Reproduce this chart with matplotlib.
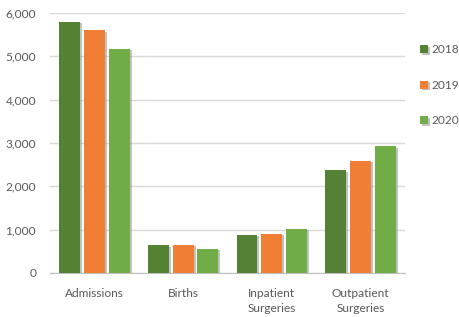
import numpy as np
import matplotlib
matplotlib.use('Agg')
import matplotlib.pyplot as plt
import matplotlib.patheffects as pe

# data
categories = ['Admissions', 'Births', 'Inpatient\nSurgeries', 'Outpatient\nSurgeries']
years = ['2018', '2019', '2020']
values_2018 = [5800, 640, 885, 2370]
values_2019 = [5600, 650, 905, 2585]
values_2020 = [5170, 555, 1020, 2920]

colors = ['#548235', '#F07F35', '#70AD47']
text_color = '#595959'

plt.rcParams['font.family'] = ['Lato', 'DejaVu Sans']

fig = plt.figure(figsize=[4.59, 3.17], dpi=100)
ax = fig.add_axes([0.109, 0.139, 0.773, 0.82])

x = np.arange(len(categories))
width = 0.235
step = 0.28
shadow = [pe.SimplePatchShadow(offset=(1.5, -1), shadow_rgbFace='#9a9a9a', alpha=0.6), pe.Normal()]

for i, (year, vals) in enumerate(zip(years, [values_2018, values_2019, values_2020])):
    bars = ax.bar(x + (i - 1) * step, vals, width, color=colors[i], label=year, zorder=3)
    for b in bars:
        b.set_path_effects(shadow)

ax.set_xlim(-0.5, len(categories) - 0.5)
ax.set_ylim(0, 6000)
ax.set_yticks(range(0, 6001, 1000))
ax.set_yticklabels(['{:,}'.format(v) for v in range(0, 6001, 1000)])
ax.set_xticks(x)
ax.set_xticklabels(categories, linespacing=1.45)

ax.grid(axis='y', color='#D9D9D9', linewidth=1, zorder=0)
for s in ['left', 'right', 'top']:
    ax.spines[s].set_visible(False)
ax.spines['bottom'].set_color('#BFBFBF')
ax.tick_params(axis='both', length=0, labelsize=8.6, colors=text_color)
ax.tick_params(axis='y', pad=10)
ax.tick_params(axis='x', pad=11)

fig.legend(loc='upper left', bbox_to_anchor=(0.905, 0.875), frameon=False,
           fontsize=8.6, labelcolor=text_color, handlelength=0.65, handleheight=0.65,
           handletextpad=0.3, labelspacing=2.05, borderaxespad=0)

fig.savefig('out.png', dpi=100)
